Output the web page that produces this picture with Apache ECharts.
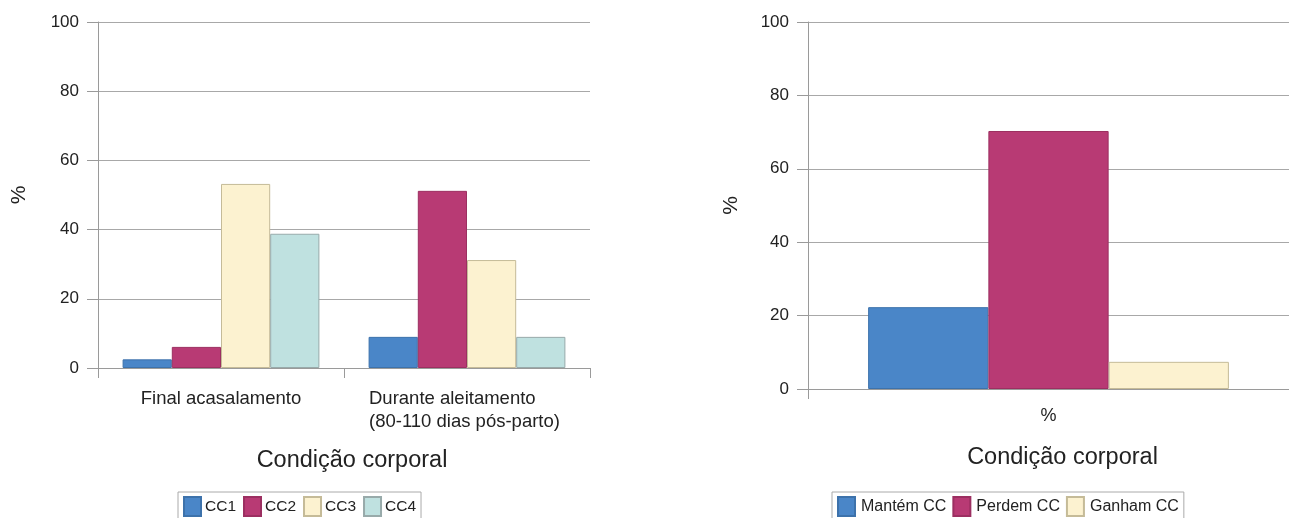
<!DOCTYPE html>
<html><head><meta charset="utf-8">
<script src="https://cdn.jsdelivr.net/npm/echarts@6/dist/echarts.min.js"></script>
<style>html,body{margin:0;padding:0;background:#fff}#c{width:1289px;height:518px}</style>
</head><body><div id="c"></div>
<script>
const leftCategories = ['Final acasalamento', 'Durante aleitamento\n(80-110 dias pós-parto)'];
const cc1 = [2.5, 9.0];
const cc2 = [6.1, 51.2];
const cc3 = [53.2, 31.2];
const cc4 = [38.8, 9.0];
const rightCategories = ['%'];
const mantem = [22.3];
const perdem = [70.3];
const ganham = [7.4];
const yTicks = [0, 20, 40, 60, 80, 100];

const FONT = 'Liberation Sans, Arial, sans-serif';
const colors = {
  blue: {color: '#4a86c8', borderColor: '#3d72ab'},
  mag: {color: '#b83a74', borderColor: '#9c2f61'},
  cream: {color: '#fcf2d0', borderColor: '#c5bb98'},
  teal: {color: '#bfe1e0', borderColor: '#98aaaa'}
};
const chart = echarts.init(document.getElementById('c'));
const yAxisBase = (gi, gap) => ({
  type: 'value', gridIndex: gi, min: yTicks[0], max: yTicks[yTicks.length - 1], interval: 20,
  name: '%', nameLocation: 'middle', nameRotate: 90, nameGap: gap,
  nameTextStyle: {fontFamily: FONT, fontSize: 21, color: '#222'},
  axisLine: {show: true, lineStyle: {color: '#9a9a9a', width: 1}},
  axisTick: {show: true, length: 11, lineStyle: {color: '#9a9a9a'}},
  splitLine: {show: true, lineStyle: {color: '#a8a8a8', width: 1}},
  axisLabel: {fontFamily: FONT, fontSize: 17, color: '#222', margin: 19}
});
const xAxisBase = (gi, data, gap, margin, labelSize, shift) => ({
  type: 'category', gridIndex: gi, data: data,
  name: 'Condição corporal', nameLocation: 'middle', nameGap: gap,
  nameTextStyle: {fontFamily: FONT, fontSize: 23.5, color: '#222', padding: [0, 0, 0, shift]},
  axisLine: {show: true, lineStyle: {color: '#9a9a9a', width: 1}},
  axisTick: {show: true, interval: 0, length: 10, alignWithLabel: false, lineStyle: {color: '#9a9a9a'}},
  axisLabel: {interval: 0, fontFamily: FONT, fontSize: labelSize, color: '#222', margin: margin, lineHeight: 23,
    formatter: v => v.indexOf('\n') >= 0 ? v.split('\n').map(s => '{l|' + s + '}').join('\n') : v,
    rich: {l: {width: 196, align: 'left', fontFamily: FONT, fontSize: labelSize, color: '#222', lineHeight: 23}}}
});
const bar = (name, data, c, xi, gap) => ({
  name, type: 'bar', data, xAxisIndex: xi, yAxisIndex: xi,
  barGap: '0%', barCategoryGap: gap,
  itemStyle: {color: c.color, borderColor: c.borderColor, borderWidth: 1},
  emphasis: {disabled: true}
});
const legendBase = (left, data, gap, textPad, size) => ({
  data, left, top: 492, orient: 'horizontal', icon: 'rect',
  itemWidth: 17, itemHeight: 19, itemGap: gap,
  padding: [4, 5, 4, 5], borderColor: '#aaaaaa', borderWidth: 1,
  textStyle: {fontFamily: FONT, fontSize: size, color: '#222', padding: [0, 0, 0, textPad]}
});
chart.setOption({
  animation: false,
  legend: [legendBase(178, ['CC1', 'CC2', 'CC3', 'CC4'], 7, -1, 15.5), legendBase(832, ['Mantém CC', 'Perdem CC', 'Ganham CC'], 6, 1, 16)],
  grid: [
    {left: 98, top: 22, width: 492, height: 346},
    {left: 808, top: 22, width: 490, height: 367}
  ],
  xAxis: [xAxisBase(0, leftCategories, 81, 19, 18.5, 16), xAxisBase(1, rightCategories, 57, 16, 18, 28)],
  yAxis: [yAxisBase(0, 68), yAxisBase(1, 66)],
  series: [
    bar('CC1', cc1, colors.blue, 0, '20%'),
    bar('CC2', cc2, colors.mag, 0, '20%'),
    bar('CC3', cc3, colors.cream, 0, '20%'),
    bar('CC4', cc4, colors.teal, 0, '20%'),
    bar('Mantém CC', mantem, colors.blue, 1, '25%'),
    bar('Perdem CC', perdem, colors.mag, 1, '25%'),
    bar('Ganham CC', ganham, colors.cream, 1, '25%')
  ]
});
</script></body></html>
